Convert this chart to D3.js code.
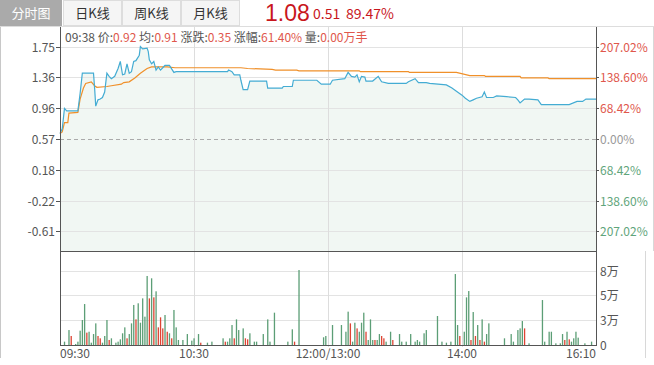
<!DOCTYPE html>
<html>
<head>
<meta charset="utf-8">
<script src="https://cdn.jsdelivr.net/npm/d3@7"></script>
<style>
  body { margin: 0; padding: 0; background: #fff; }
  svg { font-family: "Microsoft YaHei", "Noto Sans CJK SC", sans-serif; display: block; }
</style>
</head>
<body>
<svg id="chart" width="654" height="365"></svg>
<script>
// ---- data ----
var tabs = ["分时图", "日K线", "周K线", "月K线"];
var lastPrice = 1.08, lastChange = 0.51, lastPct = "89.47%";
var preClose = 0.57;
var priceTicks = [1.75, 1.36, 0.96, 0.57, 0.18, -0.22, -0.61];
var timeTicks = [0, 60, 120, 180, 240];
var timeLabels = ["09:30", "10:30", "12:00/13:00", "14:00", "16:10"];
var volTicks = [0, 2.67, 5.33, 8];          // 万
var volLabels = ["0", "3万", "5万", "8万"];
var hoverInfo = [["09:38 ", ""], ["价:", "0.92"], [" 均:", "0.91"], [" 涨跌:", "0.35"],
                 [" 涨幅:", "61.40%"], [" 量:", "0.00万手"]];

// [minute, price]
var pricePoints = [
  [0, 0.64], [1, 0.70], [2, 0.96], [3, 0.93], [8, 0.93], [9, 1.15], [10, 1.41], [15, 1.41],
  [15.5, 1.22], [16, 0.99], [17, 1.07], [18, 1.08], [19, 1.10], [20, 1.17], [21, 1.41],
  [22, 1.37], [23, 1.34], [24.5, 1.37], [26, 1.47], [27, 1.56], [28, 1.39], [29, 1.40],
  [30, 1.53], [31, 1.41], [32, 1.43], [33, 1.56], [34, 1.57], [35.5, 1.64], [36, 1.75],
  [37, 1.72], [39, 1.73], [39.5, 1.69], [40, 1.58], [41, 1.53], [42, 1.56], [43, 1.45],
  [44, 1.49], [45, 1.45], [46, 1.48], [47, 1.51], [49, 1.51], [51, 1.42], [52, 1.43],
  [75, 1.43], [75.5, 1.45], [77, 1.43], [78, 1.39], [80.5, 1.39], [81, 1.32], [82, 1.20],
  [84, 1.20], [85, 1.31], [92.5, 1.31], [93, 1.22], [99.5, 1.22], [100, 1.24], [104, 1.24],
  [104.5, 1.32], [115, 1.32], [117, 1.27], [121, 1.27], [122, 1.32], [127.5, 1.34],
  [129, 1.42], [130.5, 1.37], [132, 1.36], [133, 1.39], [134, 1.30], [135, 1.37],
  [136.5, 1.36], [137, 1.31], [140, 1.31], [142.5, 1.37], [144, 1.30], [147, 1.28],
  [155, 1.28], [156, 1.30], [159, 1.34], [160.5, 1.29], [164, 1.29], [165.5, 1.28],
  [173, 1.26], [175.5, 1.22], [177.5, 1.18], [180, 1.13], [181.5, 1.09], [183.5, 1.05],
  [185, 1.07], [186.5, 1.09], [189, 1.11], [190, 1.17], [191, 1.10], [194, 1.10],
  [195.5, 1.12], [200, 1.11], [204, 1.10], [205, 1.07], [206, 1.03], [208, 1.08],
  [210, 1.08], [214, 1.07], [215.5, 1.01], [228, 1.01], [231.5, 1.05], [234, 1.05],
  [235.5, 1.08], [240, 1.08]
];

// [minute, average price]
var avgPoints = [
  [0, 0.64], [1, 0.66], [2, 0.78], [3.5, 0.78], [4, 0.90], [8, 0.91], [9, 1.08],
  [10.5, 1.22], [11.5, 1.28], [14, 1.30], [15.5, 1.25], [16.5, 1.23], [21, 1.24],
  [23, 1.25], [27.5, 1.27], [28.5, 1.29], [31, 1.30], [33.5, 1.35], [36, 1.41],
  [39, 1.47], [41, 1.49], [48, 1.49], [51.5, 1.48], [81, 1.48], [84, 1.47], [95, 1.46],
  [96.5, 1.45], [106, 1.45], [107, 1.44], [134, 1.44], [134.5, 1.43], [156, 1.43],
  [156.5, 1.42], [177.5, 1.42], [183.5, 1.38], [190, 1.38], [190.5, 1.37], [206, 1.37],
  [206.5, 1.35], [218.5, 1.35], [219, 1.34], [240, 1.34]
];

// [minute, volume (万), up/down]
var volBars = [
  [2, 0.36, "g"], [4, 1.61, "g"], [5, 0.97, "r"], [7, 0.11, "g"], [8, 0.36, "g"], [9, 1.54, "g"],
  [10, 2.69, "g"], [11, 4.41, "g"], [12, 1.33, "r"], [13, 1.43, "g"], [14, 0.25, "g"],
  [15, 1.18, "g"], [16, 2.33, "g"], [17, 0.97, "r"], [18, 0.72, "r"], [19, 0.25, "g"],
  [20, 0.97, "g"], [21, 2.69, "g"], [22, 0.54, "r"], [23, 0.72, "g"], [25, 0.25, "g"],
  [26, 0.36, "g"], [27, 0.61, "g"], [28, 1.26, "g"], [29, 1.90, "g"], [30, 0.72, "r"],
  [31, 1.18, "g"], [32, 2.33, "g"], [33, 4.31, "g"], [34, 2.76, "r"], [35, 4.49, "g"],
  [36, 2.40, "g"], [37, 5.02, "g"], [38, 3.05, "g"], [39, 7.43, "g"], [40, 5.02, "r"],
  [41, 7.18, "g"], [42, 5.13, "r"], [43, 5.78, "g"], [44, 1.90, "r"], [45, 2.98, "r"],
  [46, 1.79, "r"], [47, 3.23, "g"], [48, 1.43, "r"], [49, 1.26, "g"], [50, 0.72, "r"],
  [51, 3.77, "g"], [52, 1.90, "g"], [53, 0.54, "g"], [55, 0.54, "g"], [57, 1.18, "g"],
  [59, 0.47, "g"], [60, 0.72, "g"], [62, 1.18, "g"], [63, 0.25, "r"], [66, 0.25, "g"],
  [68, 0.36, "g"], [73, 0.72, "g"], [74, 0.36, "r"], [75, 0.36, "g"], [76, 0.72, "g"],
  [77, 2.15, "g"], [78, 0.72, "r"], [79, 2.76, "g"], [80, 1.61, "g"], [82, 1.79, "g"],
  [83, 0.72, "r"], [84, 0.61, "r"], [85, 1.26, "g"], [87, 0.36, "g"], [88, 0.36, "g"],
  [91, 1.18, "g"], [93, 2.76, "g"], [94, 0.36, "g"], [96, 3.48, "g"], [102, 0.36, "g"],
  [104, 1.69, "g"], [105, 0.36, "r"], [107, 8.07, "g"], [118, 0.83, "g"], [119, 0.97, "g"],
  [122, 2.15, "g"], [126, 2.15, "g"], [128, 1.43, "g"], [129, 3.59, "g"], [130, 2.33, "r"],
  [131, 0.36, "g"], [132, 2.40, "g"], [133, 1.79, "r"], [134, 1.43, "g"], [135, 2.40, "g"],
  [136, 3.48, "g"], [137, 1.43, "r"], [138, 0.54, "g"], [139, 2.76, "g"], [140, 0.54, "g"],
  [141, 0.54, "r"], [142, 0.54, "g"], [143, 1.18, "g"], [144, 0.97, "r"], [145, 0.72, "r"],
  [146, 0.36, "g"], [148, 1.43, "g"], [149, 0.54, "r"], [152, 1.18, "g"], [153, 0.36, "g"],
  [155, 0.36, "g"], [157, 1.18, "g"], [159, 0.36, "g"], [160, 0.54, "g"], [161, 0.36, "g"],
  [163, 1.26, "g"], [164, 1.61, "g"], [169, 3.12, "g"], [171, 0.36, "g"], [173, 0.25, "g"],
  [175, 0.36, "g"], [177, 7.64, "g"], [178, 2.15, "g"], [179, 0.97, "r"], [181, 1.43, "g"],
  [182, 5.13, "g"], [183, 5.81, "g"], [184, 0.54, "r"], [185, 3.55, "g"], [186, 0.97, "r"],
  [187, 2.15, "g"], [188, 0.54, "r"], [189, 2.76, "g"], [190, 0.36, "r"], [191, 1.18, "g"],
  [192, 2.33, "g"], [199, 0.72, "g"], [202, 1.18, "g"], [203, 0.36, "g"], [205, 1.61, "g"],
  [206, 1.79, "g"], [207, 2.58, "g"], [208, 1.79, "r"], [210, 0.18, "g"], [216, 4.84, "g"],
  [217, 0.36, "g"], [219, 1.43, "g"], [220, 1.43, "g"], [222, 0.18, "g"], [224, 0.18, "g"],
  [225, 1.18, "g"], [226, 0.54, "r"], [227, 1.43, "g"], [228, 0.61, "r"], [229, 0.36, "g"],
  [230, 0.72, "g"], [231, 1.43, "g"], [232, 0.79, "g"], [235, 0.18, "g"], [238, 0.36, "g"]
];

// ---- drawing ----
var svg = d3.select("#chart");
var left = 60, right = 596;
var mainTop = 27, mainBottom = 251, volBottom = 345;
var red = "#e0574c", green = "#5fa57b", axisCol = "#555", gridCol = "#e3e3e3";

var x = d3.scaleLinear().domain([0, 240]).range([left, right]);
var span = 1.43;
var y = d3.scaleLinear().domain([preClose - span, preClose + span]).range([mainBottom, mainTop]);
var yv = d3.scaleLinear().domain([0, 10.12]).range([volBottom, mainBottom]);

// tabs
var tabG = svg.append("g");
tabs.forEach(function(t, k) {
  var tx = k === 0 ? 0 : 63 + (k - 1) * 59;
  var tw = k === 0 ? 62 : 59;
  tabG.append("rect").attr("x", tx + 0.5).attr("y", 0.5).attr("width", tw - 1).attr("height", 25)
    .attr("fill", k === 0 ? "#aaaaaa" : "#f5f5f5").attr("stroke", k === 0 ? "#aaaaaa" : "#dddddd");
  tabG.append("text").attr("x", tx + tw / 2).attr("y", 17.5).attr("text-anchor", "middle")
    .attr("font-size", 13).attr("fill", k === 0 ? "#fff" : "#333").text(t);
});
svg.append("line").attr("x1", 0).attr("x2", 654).attr("y1", 26.5).attr("y2", 26.5).attr("stroke", "#dddddd");

svg.append("text").attr("x", 265).attr("y", 21).attr("font-size", 23).attr("fill", "#c8161d")
  .attr("font-family", "'Liberation Sans', Arial, sans-serif")
  .text(lastPrice.toFixed(2));
svg.append("text").attr("x", 313).attr("y", 19).attr("font-size", 14).attr("fill", "#c8161d")
  .text(lastChange.toFixed(2));
svg.append("text").attr("x", 346).attr("y", 19).attr("font-size", 14).attr("fill", "#c8161d")
  .text(lastPct);

// outer borders
svg.append("line").attr("x1", 0.5).attr("x2", 0.5).attr("y1", 27).attr("y2", 358).attr("stroke", "#c8c8c8");
svg.append("line").attr("x1", 653.5).attr("x2", 653.5).attr("y1", 27).attr("y2", 251).attr("stroke", "#d8d8d8");
svg.append("line").attr("x1", 645.5).attr("x2", 645.5).attr("y1", 251).attr("y2", 358).attr("stroke", "#d8d8d8");

// area under price line
svg.append("path").datum(pricePoints)
  .attr("fill", "#f1f7f3")
  .attr("d", d3.area().x(function(d) { return x(d[0]); }).y0(mainBottom).y1(function(d) { return y(d[1]); }));

// grid
var grid = svg.append("g").attr("stroke-width", 1);
priceTicks.forEach(function(t) {
  var yy = Math.round(y(t)) + 0.5;
  grid.append("line").attr("x1", left).attr("x2", right).attr("y1", yy).attr("y2", yy)
    .attr("stroke", t === preClose ? "#aaaaaa" : gridCol)
    .attr("stroke-dasharray", t === preClose ? "4,3" : null);
});
volTicks.slice(1).forEach(function(t) {
  var yy = Math.round(yv(t)) + 0.5;
  grid.append("line").attr("x1", left).attr("x2", right).attr("y1", yy).attr("y2", yy).attr("stroke", gridCol);
});
timeTicks.slice(1, -1).forEach(function(t) {
  var xx = Math.round(x(t)) + 0.5;
  grid.append("line").attr("x1", xx).attr("x2", xx).attr("y1", mainTop).attr("y2", volBottom + 2).attr("stroke", "#dddddd");
});

// volume bars
svg.append("g").selectAll("rect").data(volBars).join("rect")
  .attr("x", function(d) { return x(d[0]) - 0.6; })
  .attr("width", 1.3)
  .attr("y", function(d) { return yv(d[1]); })
  .attr("height", function(d) { return volBottom - yv(d[1]); })
  .attr("fill", function(d) { return d[2] === "r" ? "#dd4433" : "#5c9e76"; });

// lines
var line = d3.line().x(function(d) { return x(d[0]); }).y(function(d) { return y(d[1]); });
svg.append("path").datum(avgPoints).attr("fill", "none").attr("stroke", "#f0902a").attr("stroke-width", 1.2).attr("d", line);
svg.append("path").datum(pricePoints).attr("fill", "none").attr("stroke", "#44acd3").attr("stroke-width", 1.2).attr("d", line);

// axes frame
var ax = svg.append("g").attr("stroke", axisCol).attr("stroke-width", 1);
ax.append("line").attr("x1", left + 0.5).attr("x2", left + 0.5).attr("y1", mainTop).attr("y2", volBottom + 1);
ax.append("line").attr("x1", right + 0.5).attr("x2", right + 0.5).attr("y1", mainTop).attr("y2", volBottom + 1);
ax.append("line").attr("x1", left).attr("x2", right + 1).attr("y1", mainBottom + 0.5).attr("y2", mainBottom + 0.5);
ax.append("line").attr("x1", left).attr("x2", right + 1).attr("y1", volBottom + 0.5).attr("y2", volBottom + 0.5);

// price axis labels
priceTicks.forEach(function(t) {
  var yy = Math.round(y(t)) + 0.5;
  ax.append("line").attr("x1", left - 4).attr("x2", left).attr("y1", yy).attr("y2", yy);
  ax.append("line").attr("x1", right).attr("x2", right + 3).attr("y1", yy).attr("y2", yy);
  svg.append("text").attr("x", 55).attr("y", yy + 4).attr("text-anchor", "end")
    .attr("font-size", 12).attr("fill", axisCol).text(t.toFixed(2));
  var pct = (t - preClose) / preClose * 100;
  svg.append("text").attr("x", 600).attr("y", yy + 4).attr("font-size", 12)
    .attr("fill", pct > 0.001 ? red : (pct < -0.001 ? green : "#999"))
    .text(Math.abs(pct).toFixed(2) + "%");
});

// volume axis labels
volTicks.forEach(function(t, k) {
  var yy = Math.round(yv(t)) + 0.5;
  svg.append("text").attr("x", 600).attr("y", yy + 4).attr("font-size", 12).attr("fill", axisCol).text(volLabels[k]);
});

// time labels
timeTicks.forEach(function(t, k) {
  var anchor = k === 0 ? "start" : (k === timeTicks.length - 1 ? "end" : "middle");
  svg.append("text").attr("x", x(t)).attr("y", 358).attr("text-anchor", anchor)
    .attr("font-size", 12).attr("fill", axisCol).text(timeLabels[k]);
});

// hover info line
var info = svg.append("text").attr("x", 65).attr("y", 41.5).attr("font-size", 12);
hoverInfo.forEach(function(p) {
  info.append("tspan").attr("fill", axisCol).text(p[0]);
  if (p[1]) info.append("tspan").attr("fill", red).text(p[1]);
});
</script>
</body>
</html>
